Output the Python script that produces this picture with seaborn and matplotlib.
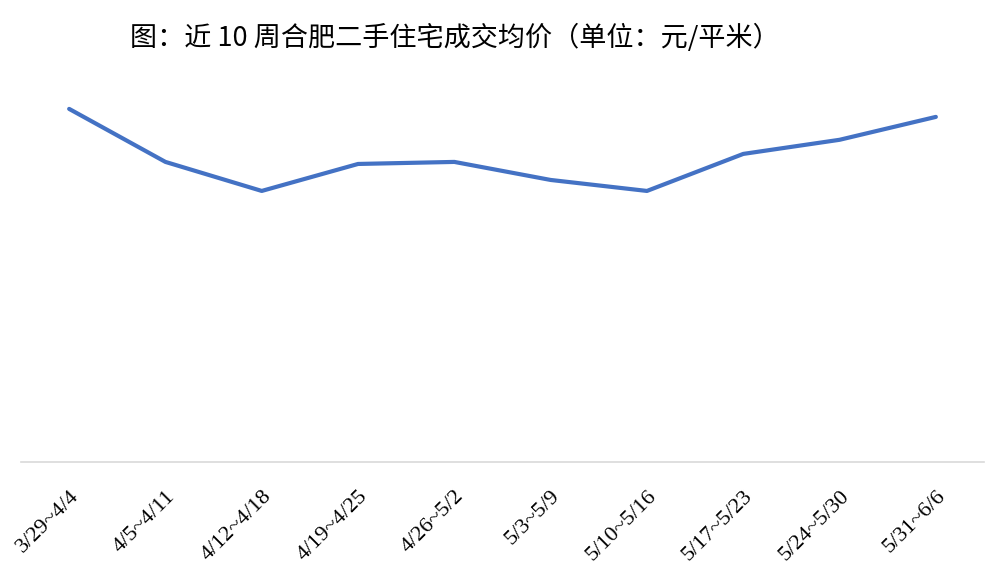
import matplotlib
matplotlib.use("Agg")
import matplotlib.pyplot as plt
import seaborn as sns
import pandas as pd

# ── DATA ─────────────────────────────────────────────────────────────────────
weeks = ["3/29~4/4", "4/5~4/11", "4/12~4/18", "4/19~4/25", "4/26~5/2",
         "5/3~5/9", "5/10~5/16", "5/17~5/23", "5/24~5/30", "5/31~6/6"]
prices = [22510, 19130, 17280, 19000, 19130, 17980, 17280, 19640, 20540, 22000]

df = pd.DataFrame({"week": weeks, "price": prices})

sns.set_theme(style="white")
plt.rcParams["font.family"] = ["Noto Sans CJK SC", "DejaVu Sans"]

fig = plt.figure(figsize=(10, 5.81), dpi=100)
ax = fig.add_axes([0.021, 0.2048, 0.963, 0.675])

sns.lineplot(data=df, x="week", y="price", sort=False, ax=ax,
             color="#4472C4", linewidth=3)

ax.set_xlim(-0.5, len(weeks) - 0.5)
ax.set_ylim(0, 25000)
ax.set_xlabel("")
ax.set_ylabel("")
ax.set_yticks([])
ax.tick_params(axis="x", length=0, pad=18)
ax.set_xticks(range(len(weeks)))
ax.set_xticklabels(weeks, rotation=45, ha="right", rotation_mode="anchor",
                   fontsize=16, family="Liberation Serif", color="black")

for s in ["top", "left", "right"]:
    ax.spines[s].set_visible(False)
ax.spines["bottom"].set_color("#d9d9d9")
ax.spines["bottom"].set_linewidth(1.2)

fig.text(0.455, 1 - 38 / 581, "图：近 10 周合肥二手住宅成交均价（单位：元/平米）",
         ha="center", va="center", fontsize=19.5, fontweight="medium", color="black")

fig.savefig("out.png", dpi=100)
